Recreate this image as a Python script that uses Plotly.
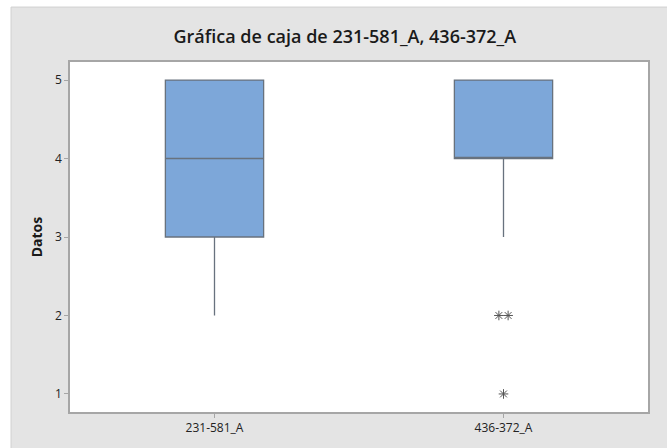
import plotly.graph_objects as go

# Column names and five-number summaries
categories = ["231-581_A", "436-372_A"]
q1 = [3, 4]
median = [4, 4]
q3 = [5, 5]
lower_whisker = [2, 3]
upper_whisker = [5, 5]
# Outliers per column (values beyond 1.5*IQR)
outliers = [[], [2, 2, 1]]

fill_color = "#7da7d9"
edge_color = "#68727e"
panel_gray = "#e4e4e4"

fig = go.Figure()

for i, name in enumerate(categories):
    fig.add_trace(go.Box(
        x=[i], q1=[q1[i]], median=[median[i]], q3=[q3[i]],
        lowerfence=[lower_whisker[i]], upperfence=[upper_whisker[i]],
        width=0.34, whiskerwidth=0,
        fillcolor=fill_color,
        line=dict(color=edge_color, width=1.3),
        boxpoints=False, name=name, showlegend=False, hoverinfo="skip",
    ))

# Outliers: tied values are spread sideways so each asterisk stays visible
ox, oy = [], []
for i, vals in enumerate(outliers):
    counts = {}
    for v in vals:
        counts[v] = counts.get(v, 0) + 1
    for v, n in counts.items():
        step = 0.032
        for k in range(n):
            ox.append(i + (k - (n - 1) / 2) * step)
            oy.append(v)

fig.add_trace(go.Scatter(
    x=ox, y=oy, mode="markers", showlegend=False, hoverinfo="skip",
    marker=dict(symbol="asterisk-open", size=8, color="#555555",
                line=dict(color="#555555", width=1)),
))

# White page edge on the left and top of the gray panel
fig.add_shape(type="rect", xref="paper", yref="paper",
              x0=-0.3, x1=-0.102, y0=-0.3, y1=1.4,
              fillcolor="white", line=dict(width=0), layer="below")
fig.add_shape(type="rect", xref="paper", yref="paper",
              x0=-0.3, x1=1.3, y0=1.157, y1=1.4,
              fillcolor="white", line=dict(width=0), layer="below")
fig.add_shape(type="line", xref="paper", yref="paper",
              x0=-0.102, x1=1.1, y0=1.157, y1=1.157,
              line=dict(color="#d0d0d0", width=1), layer="below")
fig.add_shape(type="line", xref="paper", yref="paper",
              x0=-0.102, x1=-0.102, y0=-0.2, y1=1.157,
              line=dict(color="#d0d0d0", width=1), layer="below")

axis_font = dict(family="Open Sans, Noto Sans, sans-serif", size=12, color="#222222")

fig.update_layout(
    width=667, height=448,
    paper_bgcolor=panel_gray, plot_bgcolor="white",
    margin=dict(l=70, r=19, t=62, b=36),
    title=dict(text="Gráfica de caja de 231-581_A, 436-372_A",
               x=0.517, xref="container", xanchor="center",
               y=0.917, yref="container", yanchor="middle",
               font=dict(family="Open Sans, Noto Sans, sans-serif", size=18,
                         weight=600, color="#1a1a1a")),
    xaxis=dict(range=[-0.5, 1.5], tickmode="array", tickvals=[0, 1], ticktext=categories,
               showgrid=False, zeroline=False, showline=True, linecolor="#a6a6a6",
               linewidth=1.5, mirror=True, ticks="outside", ticklen=4, tickcolor="#a6a6a6",
               tickfont=axis_font),
    yaxis=dict(range=[0.77, 5.23], tickmode="array", tickvals=[1, 2, 3, 4, 5],
               showgrid=False, zeroline=False, showline=True, linecolor="#a6a6a6",
               linewidth=1.5, mirror=True, ticks="outside", ticklen=4, tickcolor="#a6a6a6",
               tickfont=axis_font,
               title=dict(text="<b>Datos</b>", standoff=9,
                          font=dict(family="Open Sans, Noto Sans, sans-serif", size=14, color="#1a1a1a"))),
)

fig.write_html("out.html")
